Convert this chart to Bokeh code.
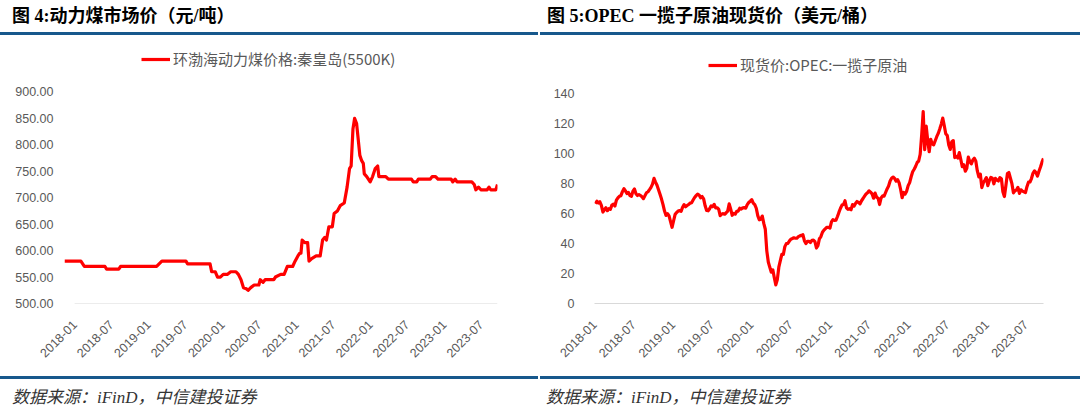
from math import pi
import pandas as pd
from bokeh.plotting import figure
from bokeh.models import (Range1d, FixedTicker, NumeralTickFormatter, DatetimeTickFormatter,
                          Legend, LegendItem, Div, ColumnDataSource)
from bokeh.layouts import row, column
from bokeh.embed import file_html
from bokeh.resources import INLINE

# ---- Bohai-Rim thermal coal price, Qinhuangdao 5500K (CNY/t) ----
coal_dates = ["2017-11-12", "2018-02-01", "2018-02-18", "2018-05-31", "2018-06-08", "2018-08-07",
              "2018-08-16", "2019-02-10", "2019-03-08", "2019-07-05", "2019-07-13", "2019-11-01",
              "2019-11-09", "2019-11-27", "2019-12-08", "2019-12-22", "2020-01-05", "2020-01-25",
              "2020-02-11", "2020-03-08", "2020-03-20", "2020-04-02", "2020-04-14", "2020-04-28",
              "2020-05-07", "2020-05-20", "2020-06-06", "2020-06-29", "2020-07-06", "2020-07-20",
              "2020-07-30", "2020-09-11", "2020-09-19", "2020-10-15", "2020-11-01", "2020-11-17",
              "2020-12-13", "2020-12-25", "2021-01-08", "2021-01-17", "2021-01-23", "2021-01-29",
              "2021-02-11", "2021-02-25", "2021-03-04", "2021-03-17", "2021-04-08", "2021-04-28",
              "2021-05-10", "2021-05-21", "2021-05-29", "2021-06-10", "2021-06-27", "2021-07-06",
              "2021-07-22", "2021-08-05", "2021-08-25", "2021-09-08", "2021-09-20", "2021-09-28",
              "2021-10-07", "2021-10-15", "2021-10-25", "2021-11-10", "2021-11-19", "2021-11-27",
              "2021-12-02", "2021-12-14", "2021-12-31", "2022-01-12", "2022-01-25", "2022-02-06",
              "2022-02-12", "2022-03-18", "2022-03-31", "2022-07-23", "2022-08-01", "2022-08-18",
              "2022-08-26", "2022-10-24", "2022-11-02", "2022-11-19", "2022-12-01", "2023-02-04",
              "2023-02-12", "2023-02-24", "2023-03-05", "2023-05-17", "2023-05-29", "2023-06-06",
              "2023-06-19", "2023-07-01", "2023-08-01", "2023-08-10", "2023-08-18", "2023-09-13",
              "2023-09-21"]
coal_price = [580, 580, 570, 570, 565, 565,
              570, 570, 580, 580, 575, 575,
              560, 560, 550, 550, 555, 555,
              560, 560, 555, 545, 530, 528,
              525, 530, 535, 535, 545, 540,
              545, 545, 550, 555, 555, 570,
              570, 580, 590, 595, 595, 620,
              615, 615, 580, 585, 590, 590,
              620, 625, 620, 645, 645, 670,
              675, 685, 690, 720, 755, 760,
              830, 850, 840, 780, 770, 765,
              745, 740, 730, 740, 755, 760,
              740, 740, 735, 735, 730, 730,
              735, 735, 740, 740, 735, 735,
              730, 735, 730, 730, 725, 715,
              720, 715, 715, 720, 715, 715,
              725]

# ---- OPEC reference basket spot price (USD/bbl), weekly from 2018-01-05 ----
opec_2018 = [66.5, 68.2, 67.0, 67.8, 65.4, 61.0, 62.5, 63.8, 61.9, 63.2, 62.8, 65.6, 66.2,
             65.0, 68.9, 70.4, 71.5, 71.9, 74.6, 76.6, 75.1, 73.3, 74.0, 72.0, 71.5, 74.9,
             76.3, 73.2, 72.0, 72.6, 72.0, 71.2, 69.9, 71.9, 73.8, 74.5, 75.9, 77.4, 79.6,
             83.4, 80.9, 78.8, 75.9, 72.8, 69.6, 65.9, 61.6, 58.7, 59.9, 58.4, 54.6, 50.8]
opec_2019 = [55.0, 59.3, 60.6, 61.6, 61.9, 61.4, 64.2, 65.9, 64.5, 65.3, 66.0, 66.9, 67.2,
             69.0, 70.7, 71.9, 72.9, 72.3, 70.5, 71.3, 69.8, 65.1, 62.0, 61.8, 63.2, 65.1,
             64.5, 66.1, 63.8, 63.8, 62.9, 58.6, 59.7, 59.9, 59.5, 60.5, 61.6, 66.4, 62.9,
             58.8, 60.1, 59.6, 61.4, 61.6, 63.5, 62.9, 63.8, 63.9, 63.6, 65.9, 67.3, 68.2]
opec_2020 = [69.2, 66.9, 65.9, 63.5, 58.6, 55.8, 56.2, 58.3, 53.4, 49.5, 35.1, 27.7, 24.1,
             20.9, 22.4, 17.2, 12.4, 15.9, 24.2, 28.6, 32.8, 32.7, 37.9, 39.9, 40.1, 41.6,
             42.9, 43.3, 43.8, 43.5, 43.5, 44.6, 45.1, 45.4, 45.9, 41.9, 40.0, 41.5, 41.5,
             40.7, 42.1, 42.2, 41.2, 37.0, 38.6, 43.2, 44.6, 47.5, 48.9, 49.9, 50.8, 50.8]
opec_2021 = [50.3, 54.4, 55.9, 55.4, 55.6, 58.0, 60.9, 63.5, 65.6, 66.0, 68.5, 63.8, 62.8,
             63.2, 62.5, 65.9, 64.9, 66.7, 68.0, 67.4, 66.4, 68.5, 70.0, 71.6, 73.0, 73.8,
             75.1, 74.2, 73.1, 70.2, 73.6, 70.9, 70.2, 66.0, 70.4, 71.7, 71.6, 74.0, 76.4,
             78.3, 81.7, 83.5, 84.3, 83.4, 81.6, 82.6, 80.4, 76.0, 70.5, 74.0, 73.0, 74.9, 78.6]
opec_2022 = [80.6, 84.5, 87.8, 89.5, 91.5, 94.0, 95.0, 99.5, 112.5, 127.9, 102.5, 118.2,
             108.7, 101.2, 109.5, 106.4, 105.8, 108.5, 111.2, 113.4, 116.3, 119.6, 123.6,
             118.7, 113.2, 112.0, 105.6, 102.7, 107.8, 108.6, 97.3, 98.1, 97.0, 100.6, 96.0,
             91.2, 92.5, 88.2, 90.2, 97.6, 94.5, 93.1, 95.6, 96.9, 94.9, 88.4, 84.4, 86.2,
             77.3, 80.5, 82.1, 83.9]
opec_2023 = [78.6, 81.9, 84.1, 83.6, 79.8, 83.4, 82.3, 81.7, 83.9, 83.2, 74.5, 71.3, 78.7,
             86.6, 87.3, 83.5, 79.9, 73.8, 75.2, 75.6, 77.4, 73.4, 75.8, 74.9, 74.4, 73.9,
             77.9, 80.9, 81.0, 83.3, 86.8, 88.4, 87.3, 84.9, 88.2, 91.0, 94.2, 96.7]
opec_price = opec_2018 + opec_2019 + opec_2020 + opec_2021 + opec_2022 + opec_2023
opec_dates = pd.date_range("2018-01-05", periods=len(opec_price), freq="7D")

# ---- axis ticks ----
x_tick_dates = ["2018-01-01", "2018-07-01", "2019-01-01", "2019-07-01", "2020-01-01", "2020-07-01",
                "2021-01-01", "2021-07-01", "2022-01-01", "2022-07-01", "2023-01-01", "2023-07-01"]
coal_y_ticks = [500, 550, 600, 650, 700, 750, 800, 850, 900]
opec_y_ticks = [0, 20, 40, 60, 80, 100, 120, 140]

RED = "#FF0000"
GREY_TXT = "#595959"
AXIS_GREY = "#D9D9D9"
BLUE = "#17588C"
FIG_H = 338


def ms(d):
    return pd.Timestamp(d).value // 10**6


def style(p, y_ticks, y_fmt, y_standoff):
    p.xgrid.grid_line_color = None
    p.ygrid.grid_line_color = None
    p.outline_line_color = None
    p.background_fill_color = "white"
    p.border_fill_color = "white"
    p.toolbar.logo = None

    xa = p.xaxis[0]
    xa.ticker = FixedTicker(ticks=[ms(d) for d in x_tick_dates])
    xa.formatter = DatetimeTickFormatter(
        years="%Y-%m", months="%Y-%m", days="%Y-%m", hours="%Y-%m",
        minutes="%Y-%m", seconds="%Y-%m", milliseconds="%Y-%m", microseconds="%Y-%m")
    xa.axis_line_color = AXIS_GREY
    xa.axis_line_width = 1
    xa.major_tick_line_color = None
    xa.minor_tick_line_color = None
    xa.major_label_orientation = pi / 4
    xa.major_label_standoff = 13
    xa.major_label_text_color = GREY_TXT
    xa.major_label_text_font = "Liberation Sans"
    xa.major_label_text_font_size = "12.5px"

    ya = p.yaxis[0]
    ya.ticker = FixedTicker(ticks=y_ticks)
    ya.formatter = NumeralTickFormatter(format=y_fmt)
    ya.axis_line_color = None
    ya.major_tick_line_color = None
    ya.minor_tick_line_color = None
    ya.major_label_standoff = y_standoff
    ya.major_label_text_color = GREY_TXT
    ya.major_label_text_font = "Liberation Sans"
    ya.major_label_text_font_size = "12.5px"


def make_legend(renderer, label, x, y):
    return Legend(items=[LegendItem(label=label, renderers=[renderer])],
                  location=(x, y), orientation="horizontal",
                  border_line_color=None, background_fill_alpha=0,
                  padding=0, margin=0, spacing=0,
                  glyph_width=29, glyph_height=20, label_height=20, label_standoff=3,
                  label_text_font="Noto Sans CJK SC", label_text_font_size="15px",
                  label_text_color=GREY_TXT)


# ---- left: thermal coal ----
c_top, c_bottom = 3, 70
c_frame_h = FIG_H - c_top - c_bottom
c_px_per_unit = 26.75 / 50
coal_src = ColumnDataSource(dict(x=pd.to_datetime(coal_dates), y=coal_price))
p1 = figure(width=540, height=FIG_H, x_axis_type="datetime",
            x_range=Range1d(pd.Timestamp(coal_dates[0]), pd.Timestamp(coal_dates[-1])),
            y_range=Range1d(500, 500 + c_frame_h / c_px_per_unit),
            min_border_left=64, min_border_right=43, min_border_top=c_top, min_border_bottom=c_bottom,
            output_backend="svg", toolbar_location=None)
style(p1, coal_y_ticks, "0.00", 5)
# the category axis line runs from the first labelled month to the last observation
p1.xaxis[0].axis_line_color = None
p1.segment(x0=[pd.Timestamp(x_tick_dates[0])], y0=[coal_y_ticks[0]],
           x1=[pd.Timestamp(coal_dates[-1])], y1=[coal_y_ticks[0]],
           line_color=AXIS_GREY, line_width=1)
r1 = p1.line("x", "y", source=coal_src, line_color=RED, line_width=3.2, line_join="round")
p1.add_layout(make_legend(r1, "环渤海动力煤价格:秦皇岛(5500K)", 77, c_frame_h - 31.3))

# ---- right: OPEC basket ----
o_top, o_bottom = 3, 73
o_frame_h = FIG_H - o_top - o_bottom
o_px_per_unit = 1.5
opec_src = ColumnDataSource(dict(x=opec_dates, y=opec_price))
p2 = figure(width=540, height=FIG_H, x_axis_type="datetime",
            x_range=Range1d(pd.Timestamp(x_tick_dates[0]), opec_dates[-1]),
            y_range=Range1d(0, o_frame_h / o_px_per_unit),
            min_border_left=54, min_border_right=37, min_border_top=o_top, min_border_bottom=o_bottom,
            output_backend="svg", toolbar_location=None)
style(p2, opec_y_ticks, "0", 14)
r2 = p2.line("x", "y", source=opec_src, line_color=RED, line_width=3.2, line_join="round")
p2.add_layout(make_legend(r2, "现货价:OPEC:一揽子原油", 114, o_frame_h - 34))

# ---- headings and source notes ----
HEAD_CSS = ("width:{w}px;height:35px;box-sizing:border-box;border-bottom:3px solid " + BLUE + ";"
            "padding:4px 0 0 {pad}px;font-family:'Liberation Serif','Noto Sans CJK SC',serif;"
            "font-weight:bold;font-size:18px;line-height:24px;color:#000;white-space:nowrap;")
FOOT_CSS = ("width:{w}px;height:39px;box-sizing:border-box;border-top:3px solid " + BLUE + ";"
            "padding:9px 0 0 {pad}px;font-family:'Liberation Serif','Noto Sans CJK SC',serif;"
            "font-style:italic;font-size:17px;line-height:20px;color:#333;white-space:nowrap;")


def head(text, w, pad):
    return Div(text=f'<div style="{HEAD_CSS.format(w=w, pad=pad)}">{text}</div>',
               width=540, height=38, margin=0)


def foot(text, w, pad):
    return Div(text=f'<div style="{FOOT_CSS.format(w=w, pad=pad)}">{text}</div>',
               width=540, height=39, margin=0)


layout = column(
    row(head("图 4:动力煤市场价（元/吨）", 538, 12), head("图 5:OPEC 一揽子原油现货价（美元/桶）", 540, 7)),
    row(p1, p2),
    row(foot("数据来源：iFinD，中信建投证券", 538, 12), foot("数据来源：iFinD，中信建投证券", 540, 6)),
)

open("out.html", "w").write(file_html(layout, INLINE))
